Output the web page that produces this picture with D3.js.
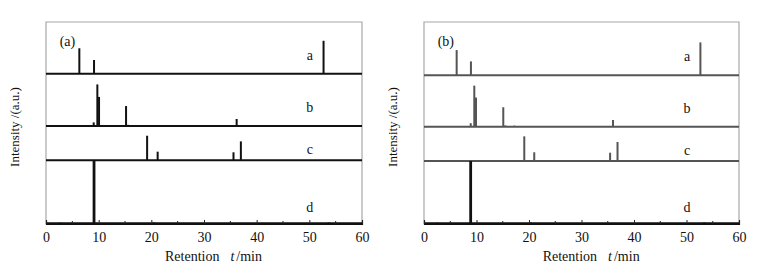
<!DOCTYPE html>
<html>
  <head>
    <meta charset="UTF-8">
    <style>
      body {
        margin: 0;
        background: white;
      }
      svg text {
        font-family: 'Liberation Serif', 'Times New Roman', serif;
        font-size: 14px;
        fill: #111;
      }
    </style>
    <script src="https://d3js.org/d3.v7.min.js"></script>
  </head>
  <body>
    <svg id="chart"></svg>

    <script type="text/javascript">
      // retention time ticks (min)
      const timeTicks = [0, 10, 20, 30, 40, 50, 60]
      const minorTicks = [5, 15, 25, 35, 45, 55]
      const traceNames = ['a', 'b', 'c', 'd']

      // baseline of each trace (intensity units)
      const offsetsA = [74.4, 48.5, 31.5, 0.2]
      const offsetsB = [73.6, 48.2, 31.2, 0.2]

      // peaks [retention time, height] for panel (a)
      const peaksA_a = [[6.33, 12.6], [9.12, 6.8], [52.7, 16.3]]
      const peaksA_b = [[9.06, 1.8], [9.75, 20.6], [10.07, 14.4], [15.2, 9.9], [15.6, 0.6], [17.4, 0.5], [36.2, 3.5]]
      const peaksA_c = [[19.2, 12.2], [21.2, 4.3], [35.6, 4.0], [37.0, 9.4]]
      const peaksA_d = [[2.7, 0.4], [9.12, 31.3], [20.5, 0.5], [53.7, 0.5]]

      // peaks for panel (b)
      const peaksB_a = [[6.22, 12.5], [8.94, 6.9], [52.65, 16.3]]
      const peaksB_b = [[8.9, 1.7], [9.58, 20.3], [9.9, 14.4], [15.1, 9.6], [15.5, 0.6], [17.2, 0.5], [36.0, 3.3]]
      const peaksB_c = [[19.1, 12.2], [21.0, 4.3], [35.45, 4.1], [36.86, 9.4]]
      const peaksB_d = [[2.5, 0.4], [8.89, 31.0], [20.3, 0.5], [53.4, 0.5]]

      const panels = [
        { tag: '(a)', left: 46, right: 362, offsets: offsetsA,
          peaks: [peaksA_a, peaksA_b, peaksA_c, peaksA_d],
          colors: ['#111', '#111', '#111', '#111'] },
        { tag: '(b)', left: 424, right: 739, offsets: offsetsB,
          peaks: [peaksB_a, peaksB_b, peaksB_c, peaksB_d],
          colors: ['#555', '#555', '#555', '#111'] }
      ]

      function getChartConfig() {
        let width = 766
        let height = 271
        let top = 22
        let bottom = 224
        let container = d3.select('#chart')
          .attr('width', width)
          .attr('height', height)
        return { width, height, top, bottom, container }
      }

      function drawPanel(panel, config) {
        let x = d3.scaleLinear()
          .domain([0, 60])
          .range([panel.left, panel.right])

        let y = d3.scaleLinear()
          .domain([0, 100])
          .range([config.bottom, config.top])

        let g = config.container.append('g')

        // grey frame
        g.append('path')
          .attr('d', `M${panel.left},${config.bottom}V${config.top}H${panel.right}V${config.bottom}`)
          .attr('fill', 'none')
          .attr('stroke', '#a8a8a8')
          .attr('stroke-width', 1.2)

        // traces
        panel.peaks.forEach((peaks, i) => {
          let base = panel.offsets[i]
          let tr = g.append('g').attr('stroke', panel.colors[i])

          tr.append('line')
            .attr('x1', x(0))
            .attr('x2', x(60))
            .attr('y1', y(base))
            .attr('y2', y(base))
            .attr('stroke-width', i == 3 ? 2.6 : 2)

          tr.selectAll('line.peak')
            .data(peaks)
            .enter()
            .append('line')
            .attr('class', 'peak')
            .attr('x1', d => x(d[0]))
            .attr('x2', d => x(d[0]))
            .attr('y1', y(base))
            .attr('y2', d => y(base + d[1]))
            .attr('stroke-width', i == 3 ? 2.8 : 2)
        })

        // bottom axis, ticks pointing inward
        let axis = g.append('g')
          .attr('transform', `translate(0, ${config.bottom})`)
          .call(d3.axisBottom(x).tickValues(timeTicks).tickSize(-4).tickPadding(8))
        axis.select('.domain').attr('stroke', '#111').attr('stroke-width', 1.2)
        axis.selectAll('.tick text')
          .style('font-family', "'Liberation Serif', serif")
          .style('font-size', '14px')
          .attr('fill', '#111')
        axis.selectAll('.tick line').attr('stroke', '#222')

        g.append('g')
          .selectAll('line')
          .data(minorTicks)
          .enter()
          .append('line')
          .attr('x1', d => x(d))
          .attr('x2', d => x(d))
          .attr('y1', config.bottom)
          .attr('y2', config.bottom - 3)
          .attr('stroke', '#222')

        // trace letters
        let labelLift = [18, 18, 10, 16]
        g.selectAll('text.trace')
          .data(traceNames)
          .enter()
          .append('text')
          .attr('class', 'trace')
          .attr('x', x(50.1))
          .attr('y', (d, i) => y(panel.offsets[i]) - labelLift[i] + 4)
          .attr('text-anchor', 'middle')
          .text(d => d)

        g.append('text')
          .attr('x', x(2.6))
          .attr('y', 46)
          .text(panel.tag)

        // axis titles
        let xt = g.append('text')
          .attr('x', x(22.6))
          .attr('y', 261)
        xt.append('tspan').text('Retention')
        xt.append('tspan').attr('dx', 11).style('font-style', 'italic').text('t')
        xt.append('tspan').attr('dx', 2).text('/min')

        g.append('text')
          .attr('transform', `translate(${panel.left - 27}, 127) rotate(-90)`)
          .attr('text-anchor', 'middle')
          .style('font-size', '13px')
          .text('Intensity /(a.u.)')
      }

      let config = getChartConfig()
      panels.forEach(p => drawPanel(p, config))
    </script>
  </body>
</html>
